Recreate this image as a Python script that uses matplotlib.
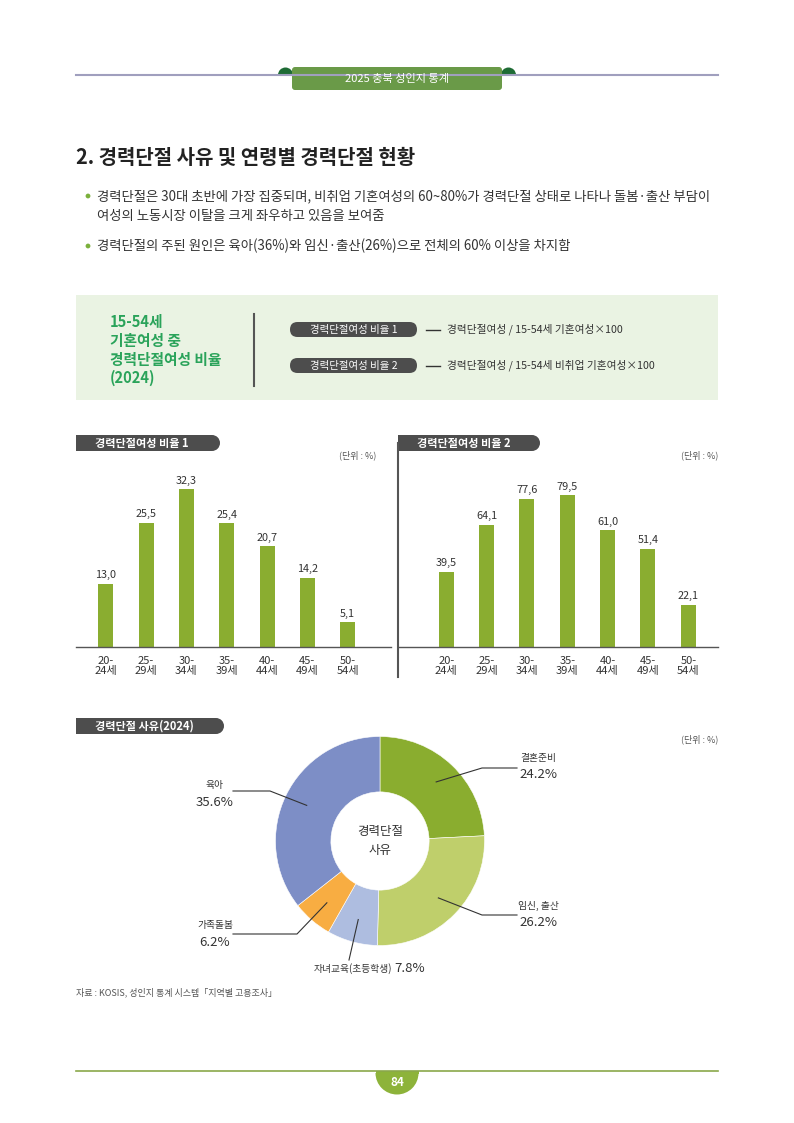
import numpy as np
import matplotlib.pyplot as plt
from matplotlib.patches import Rectangle, Circle, Wedge, FancyBboxPatch

plt.rcParams['font.family'] = ['Noto Sans CJK KR', 'DejaVu Sans']

# ---- data ----
age_groups = ['20-\n24세', '25-\n29세', '30-\n34세', '35-\n39세',
              '40-\n44세', '45-\n49세', '50-\n54세']
ratio1 = [13.0, 25.5, 32.3, 25.4, 20.7, 14.2, 5.1]
ratio2 = [39.5, 64.1, 77.6, 79.5, 61.0, 51.4, 22.1]

reason_labels = ['결혼준비', '임신, 출산', '자녀교육(초등학생)', '가족돌봄', '육아']
reason_values = [24.2, 26.2, 7.8, 6.2, 35.6]
reason_colors = ['#8aad2f', '#bfcf6b', '#aebde0', '#f8ad42', '#7d8ec6']

BAR = '#8aad30'
DARK = '#333333'
PILL = '#4d4d4d'

W, H = 794, 1123
fig = plt.figure(figsize=(W / 100, H / 100), dpi=100)


def page_axes():
    a = fig.add_axes([0, 0, 1, 1])
    a.set_xlim(0, W)
    a.set_ylim(H, 0)
    a.set_facecolor('none')
    a.axis('off')
    return a


page = page_axes()


def px_axes(x0, y0, x1, y1):
    return fig.add_axes([x0 / W, 1 - y1 / H, (x1 - x0) / W, (y1 - y0) / H])


def head_pill(x0, x1, yc, h, text):
    r = h / 2
    page.add_patch(Rectangle((x0, yc - r), x1 - x0 - r, h, color=PILL, lw=0))
    page.add_patch(Circle((x1 - r, yc), r, color=PILL, lw=0))
    page.text(x0 + 19, yc, text, color='white', fontsize=8, fontweight='bold',
              va='center', ha='left')


def round_pill(x0, x1, yc, h, text):
    page.add_patch(FancyBboxPatch((x0, yc - h / 2), x1 - x0, h,
                                  boxstyle='round,pad=0,rounding_size=%f' % (h / 2),
                                  fc=PILL, ec='none'))
    page.text((x0 + x1) / 2, yc, text, color='white', fontsize=7.5,
              va='center', ha='center')


# ---- header ----
page.plot([76, 718], [75, 75], color='#a09fbe', lw=1.5)
for cx in (285.5, 508.5):
    page.add_patch(Wedge((cx, 75), 7.5, 180, 360, color='#1e6b35', lw=0))
page.add_patch(FancyBboxPatch((292, 67), 210, 23, boxstyle='round,pad=0,rounding_size=3',
                              fc='#6a9a48', ec='none'))
page.text(397, 79, '2025 충북 성인지 통계', color='white', fontsize=8,
          ha='center', va='center')

page.text(76, 157, '2. 경력단절 사유 및 연령별 경력단절 현황', fontsize=14.4,
          fontweight='bold', color='#222222', va='center', ha='left')

bullets = [(196, '경력단절은 30대 초반에 가장 집중되며, 비취업 기혼여성의 60~80%가 경력단절 상태로 나타나 돌봄·출산 부담이'),
           (216, '여성의 노동시장 이탈을 크게 좌우하고 있음을 보여줌'),
           (246, '경력단절의 주된 원인은 육아(36%)와 임신·출산(26%)으로 전체의 60% 이상을 차지함')]
for i, (y, s) in enumerate(bullets):
    if i != 1:
        page.add_patch(Circle((88, y), 2.4, color='#7bb03c', lw=0))
    page.text(97, y, s, fontsize=9.6, color=DARK, va='center', ha='left')

# ---- definition box ----
page.add_patch(Rectangle((76, 295), 642, 105, color='#eaf3e3', lw=0))
for y, s in zip([322, 341, 360, 378], ['15-54세', '기혼여성 중', '경력단절여성 비율', '(2024)']):
    page.text(110, y, s, fontsize=10.6, fontweight='bold', color='#2aa35a',
              va='center', ha='left')
page.plot([254, 254], [314, 386], color='#555555', lw=1.5)
defs = [(329.5, '경력단절여성 비율 1', '경력단절여성 / 15-54세 기혼여성×100'),
        (365.5, '경력단절여성 비율 2', '경력단절여성 / 15-54세 비취업 기혼여성×100')]
for y, name, formula in defs:
    round_pill(290, 417, y, 15, name)
    page.plot([426, 440], [y, y], color=DARK, lw=1)
    page.text(447, y, formula, fontsize=7.7, color=DARK, va='center', ha='left')

# ---- bar charts ----
head_pill(76, 220, 443, 16, '경력단절여성 비율 1')
head_pill(398, 540, 443, 16, '경력단절여성 비율 2')
page.text(376, 455, '(단위 : %)', fontsize=6.5, color='#555555', ha='right', va='center')
page.text(718, 455, '(단위 : %)', fontsize=6.5, color='#555555', ha='right', va='center')
page.plot([398, 398], [443, 677], color='#555555', lw=1.5)


def bar_chart(x0, x1, values, px_per_unit, center0, step):
    top, base = 470, 647
    ax = px_axes(x0, top, x1, base)
    ax.set_facecolor('none')
    x = np.arange(len(values))
    ax.bar(x, values, width=15 / step, color=BAR)
    ax.set_xlim(-(center0 - x0) / step, (x1 - center0) / step)
    ax.set_ylim(0, (base - top) / px_per_unit)
    for xi, v in zip(x, values):
        ax.annotate(f'{v:.1f}'.replace('.', ','), (xi, v), xytext=(0, 2.5),
                    textcoords='offset points', ha='center', va='bottom',
                    fontsize=7.8, color=DARK, annotation_clip=False)
    for s in ('top', 'left', 'right'):
        ax.spines[s].set_visible(False)
    ax.spines['bottom'].set_color('#555555')
    ax.spines['bottom'].set_linewidth(1)
    ax.set_yticks([])
    ax.set_xticks(x, age_groups)
    ax.tick_params(axis='x', length=0, pad=6.5, labelsize=8, colors=DARK)
    for t in ax.get_xticklabels():
        t.set_linespacing(1.0)
    return ax


bar_chart(76, 391, ratio1, 4.88, 105.8, 40.3)
bar_chart(398, 718, ratio2, 1.91, 446.2, 40.35)

# ---- donut ----
head_pill(76, 224, 726, 16, '경력단절 사유(2024)')
page.text(718, 739, '(단위 : %)', fontsize=6.5, color='#555555', ha='right', va='center')

CX, CY, R = 380, 841, 104.5
half = 115
axp = px_axes(CX - half, CY - half, CX + half, CY + half)
axp.pie(reason_values, colors=reason_colors, startangle=90, counterclock=False,
        radius=1, wedgeprops=dict(width=0.53, edgecolor='white', linewidth=0.4))
axp.set_xlim(-half / R, half / R)
axp.set_ylim(-half / R, half / R)
axp.text(0, 0, '경력단절\n사유', ha='center', va='center', fontsize=9,
         color=DARK, linespacing=1.6)

# overlay for leader lines so they sit on top of the wedges
over = page_axes()

# leader layout: elbow point, line end, text x, name y, value y, alignment
layout = [((482, 768), (517, 768), 538, 758, 775, 'center'),
          ((482, 915), (517, 915), 538, 906, 922, 'center'),
          ((349, 960), None, None, 969, 969, 'inline'),
          ((297, 934), (233, 934), 215, 925, 943, 'center'),
          ((270, 791), (233, 791), 215, 785, 802, 'center')]

cum = 0.0
for name, val, (elbow, end, tx, ny, vy, mode) in zip(reason_labels, reason_values, layout):
    mid = np.deg2rad(90 - 360 * (cum + val / 2) / 100)
    cum += val
    sx = CX + 0.78 * R * np.cos(mid)
    sy = CY - 0.78 * R * np.sin(mid)
    xs, ys = [sx, elbow[0]], [sy, elbow[1]]
    if end is not None:
        xs.append(end[0])
        ys.append(end[1])
    over.plot(xs, ys, color=DARK, lw=0.8)
    if mode == 'inline':
        over.text(elbow[0] + 43, ny, name, fontsize=7, color=DARK, ha='right', va='center')
        over.text(elbow[0] + 45, vy, f'{val:.1f}%', fontsize=9.5, color=DARK,
                  ha='left', va='center')
    else:
        over.text(tx, ny, name, fontsize=7, color=DARK, ha='center', va='center')
        over.text(tx, vy, f'{val:.1f}%', fontsize=9.5, color=DARK, ha='center', va='center')

over.text(76, 992, '자료 : KOSIS, 성인지 통계 시스템「지역별 고용조사」', fontsize=6.5,
          color='#555555', ha='left', va='center')

# ---- footer ----
over.add_patch(Rectangle((375.5, 1071), 43, 3, color='#8db33a', lw=0))
over.add_patch(Wedge((397, 1073), 21.5, 0, 180, color='#8db33a', lw=0))
over.plot([76, 718], [1071, 1071], color='#8aa84a', lw=1.2)
over.text(397, 1082, '84', color='white', fontsize=8.5, fontweight='bold',
          ha='center', va='center')

fig.savefig('out.png', dpi=100)
